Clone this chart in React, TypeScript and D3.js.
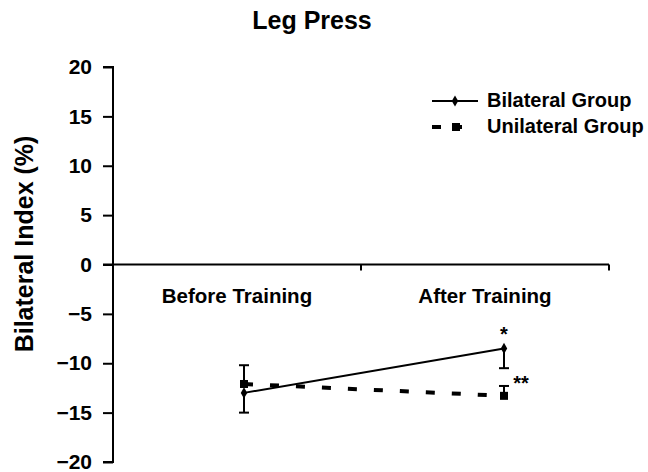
import React, { useEffect, useRef } from 'react';
import * as d3 from 'd3';

// categories and values
const categories = ['Before Training', 'After Training'];
const yTicks = [20, 15, 10, 5, 0, -5, -10, -15, -20];

const bilateralMean = [-13.0, -8.5];
const bilateralErr = [2.0, 2.0]; // drawn downward
const unilateralMean = [-12.1, -13.3];
const unilateralErr = [1.9, 1.0]; // drawn upward

const seriesNames = ['Bilateral Group', 'Unilateral Group'];
const stars = ['*', '**'];

const App = () => {
  const svgRef = useRef(null);
  const width = 648;
  const height = 472;

  useEffect(() => {
    const svg = d3.select(svgRef.current);
    svg.selectAll('*').remove();

    const font = '"Liberation Sans", Arial, Helvetica, sans-serif';
    const axisX = 113;

    const y = d3.scaleLinear().domain([-20, 20]).range([462, 67]);

    // band scale for the category axis, point scale for where the marks sit
    const xBand = d3.scaleBand().domain(categories).range([axisX, 609]);
    const xPt = d3.scalePoint().domain(categories).range([244, 504]);

    // title
    svg.append('text')
      .attr('x', 312).attr('y', 29)
      .attr('text-anchor', 'middle')
      .attr('font-family', font).attr('font-weight', 'bold').attr('font-size', 25)
      .text('Leg Press');

    // y axis label
    svg.append('text')
      .attr('transform', `translate(33,244) rotate(-90)`)
      .attr('text-anchor', 'middle')
      .attr('font-family', font).attr('font-weight', 'bold').attr('font-size', 25)
      .text('Bilateral Index (%)');

    // y axis
    const yAxis = svg.append('g')
      .attr('transform', `translate(${axisX},0)`)
      .call(d3.axisLeft(y).tickValues(yTicks).tickSize(10).tickPadding(11)
        .tickFormat(d => (d < 0 ? '\u2212' + Math.abs(d) : String(d))));
    yAxis.select('.domain').attr('d', `M-10,${y(20)}H0V${y(-20)}H-10`).attr('stroke', '#000').attr('stroke-width', 2);
    yAxis.selectAll('line').attr('stroke', '#000').attr('stroke-width', 2);
    yAxis.selectAll('text')
      .attr('font-family', font).attr('font-weight', 'bold').attr('font-size', 21).attr('fill', '#000');

    // x axis on zero
    const xAxis = svg.append('g')
      .attr('transform', `translate(0,${y(0)})`)
      .call(d3.axisBottom(xBand).tickSize(0).tickPadding(0).tickFormat(() => ''));
    xAxis.select('.domain').remove();
    xAxis.append('line')
      .attr('x1', axisX - 10).attr('x2', 609)
      .attr('stroke', '#000').attr('stroke-width', 2);
    // tick marks on band edges
    xAxis.selectAll('.edge')
      .data(categories)
      .enter().append('line')
      .attr('x1', d => xBand(d) + xBand.bandwidth())
      .attr('x2', d => xBand(d) + xBand.bandwidth())
      .attr('y1', 0).attr('y2', 6)
      .attr('stroke', '#000').attr('stroke-width', 2);
    xAxis.selectAll('.cat')
      .data(categories)
      .enter().append('text')
      .attr('x', d => xBand(d) + xBand.bandwidth() / 2)
      .attr('y', 38)
      .attr('text-anchor', 'middle')
      .attr('fill', '#000')
      .attr('font-family', font).attr('font-weight', 'bold').attr('font-size', 20.5)
      .text(d => d);

    const line = d3.line().x(d => d[0]).y(d => d[1]);
    const bilPts = categories.map((c, i) => [xPt(c), y(bilateralMean[i])]);
    const uniPts = categories.map((c, i) => [xPt(c), y(unilateralMean[i])]);

    // error bars
    const errG = svg.append('g').attr('stroke', '#000').attr('stroke-width', 2);
    const drawErr = (xv, y1, y2) => {
      errG.append('line').attr('x1', xv).attr('x2', xv).attr('y1', y1).attr('y2', y2);
      errG.append('line').attr('x1', xv - 5).attr('x2', xv + 5).attr('y1', y2).attr('y2', y2);
    };
    categories.forEach((c, i) => {
      drawErr(xPt(c), y(bilateralMean[i]), y(bilateralMean[i] - bilateralErr[i]));
      drawErr(xPt(c), y(unilateralMean[i]), y(unilateralMean[i] + unilateralErr[i]));
    });

    // unilateral dashed line
    svg.append('path')
      .attr('d', line(uniPts))
      .attr('fill', 'none').attr('stroke', '#000')
      .attr('stroke-width', 4).attr('stroke-dasharray', '9,17');
    svg.selectAll('.sq')
      .data(uniPts)
      .enter().append('rect')
      .attr('x', d => d[0] - 4).attr('y', d => d[1] - 4)
      .attr('width', 8).attr('height', 8).attr('fill', '#000');

    // bilateral solid line
    svg.append('path')
      .attr('d', line(bilPts))
      .attr('fill', 'none').attr('stroke', '#000').attr('stroke-width', 2);
    const diamond = d3.symbol().type(d3.symbolDiamond).size(36);
    svg.selectAll('.dm')
      .data(bilPts)
      .enter().append('path')
      .attr('transform', d => `translate(${d[0]},${d[1]})`)
      .attr('d', diamond()).attr('fill', '#000');

    // significance marks
    const after = categories[1];
    svg.append('text')
      .attr('x', xPt(after)).attr('y', y(bilateralMean[1]) - 7)
      .attr('text-anchor', 'middle')
      .attr('font-family', font).attr('font-weight', 'bold').attr('font-size', 20)
      .text(stars[0]);
    svg.append('text')
      .attr('x', xPt(after) + 17).attr('y', y(unilateralMean[1] + unilateralErr[1]) + 4)
      .attr('text-anchor', 'middle')
      .attr('font-family', font).attr('font-weight', 'bold').attr('font-size', 20)
      .text(stars[1]);

    // legend
    const lg = svg.append('g');
    lg.append('line')
      .attr('x1', 432).attr('x2', 478).attr('y1', 101).attr('y2', 101)
      .attr('stroke', '#000').attr('stroke-width', 2);
    lg.append('path')
      .attr('transform', 'translate(455,101)')
      .attr('d', diamond()).attr('fill', '#000');
    lg.append('line')
      .attr('x1', 432).attr('x2', 466).attr('y1', 127).attr('y2', 127)
      .attr('stroke', '#000').attr('stroke-width', 4).attr('stroke-dasharray', '9,12');
    lg.append('rect')
      .attr('x', 452).attr('y', 123).attr('width', 8).attr('height', 8).attr('fill', '#000');
    lg.selectAll('.lt')
      .data(seriesNames)
      .enter().append('text')
      .attr('x', 487)
      .attr('y', (d, i) => 107 + i * 26)
      .attr('font-family', font).attr('font-weight', 'bold').attr('font-size', 20)
      .text(d => d);
  }, []);

  return (
    <svg ref={svgRef} width={width} height={height}
      style={{ position: 'absolute', left: 0, top: 0, background: '#fff' }} />
  );
};

export default App;
